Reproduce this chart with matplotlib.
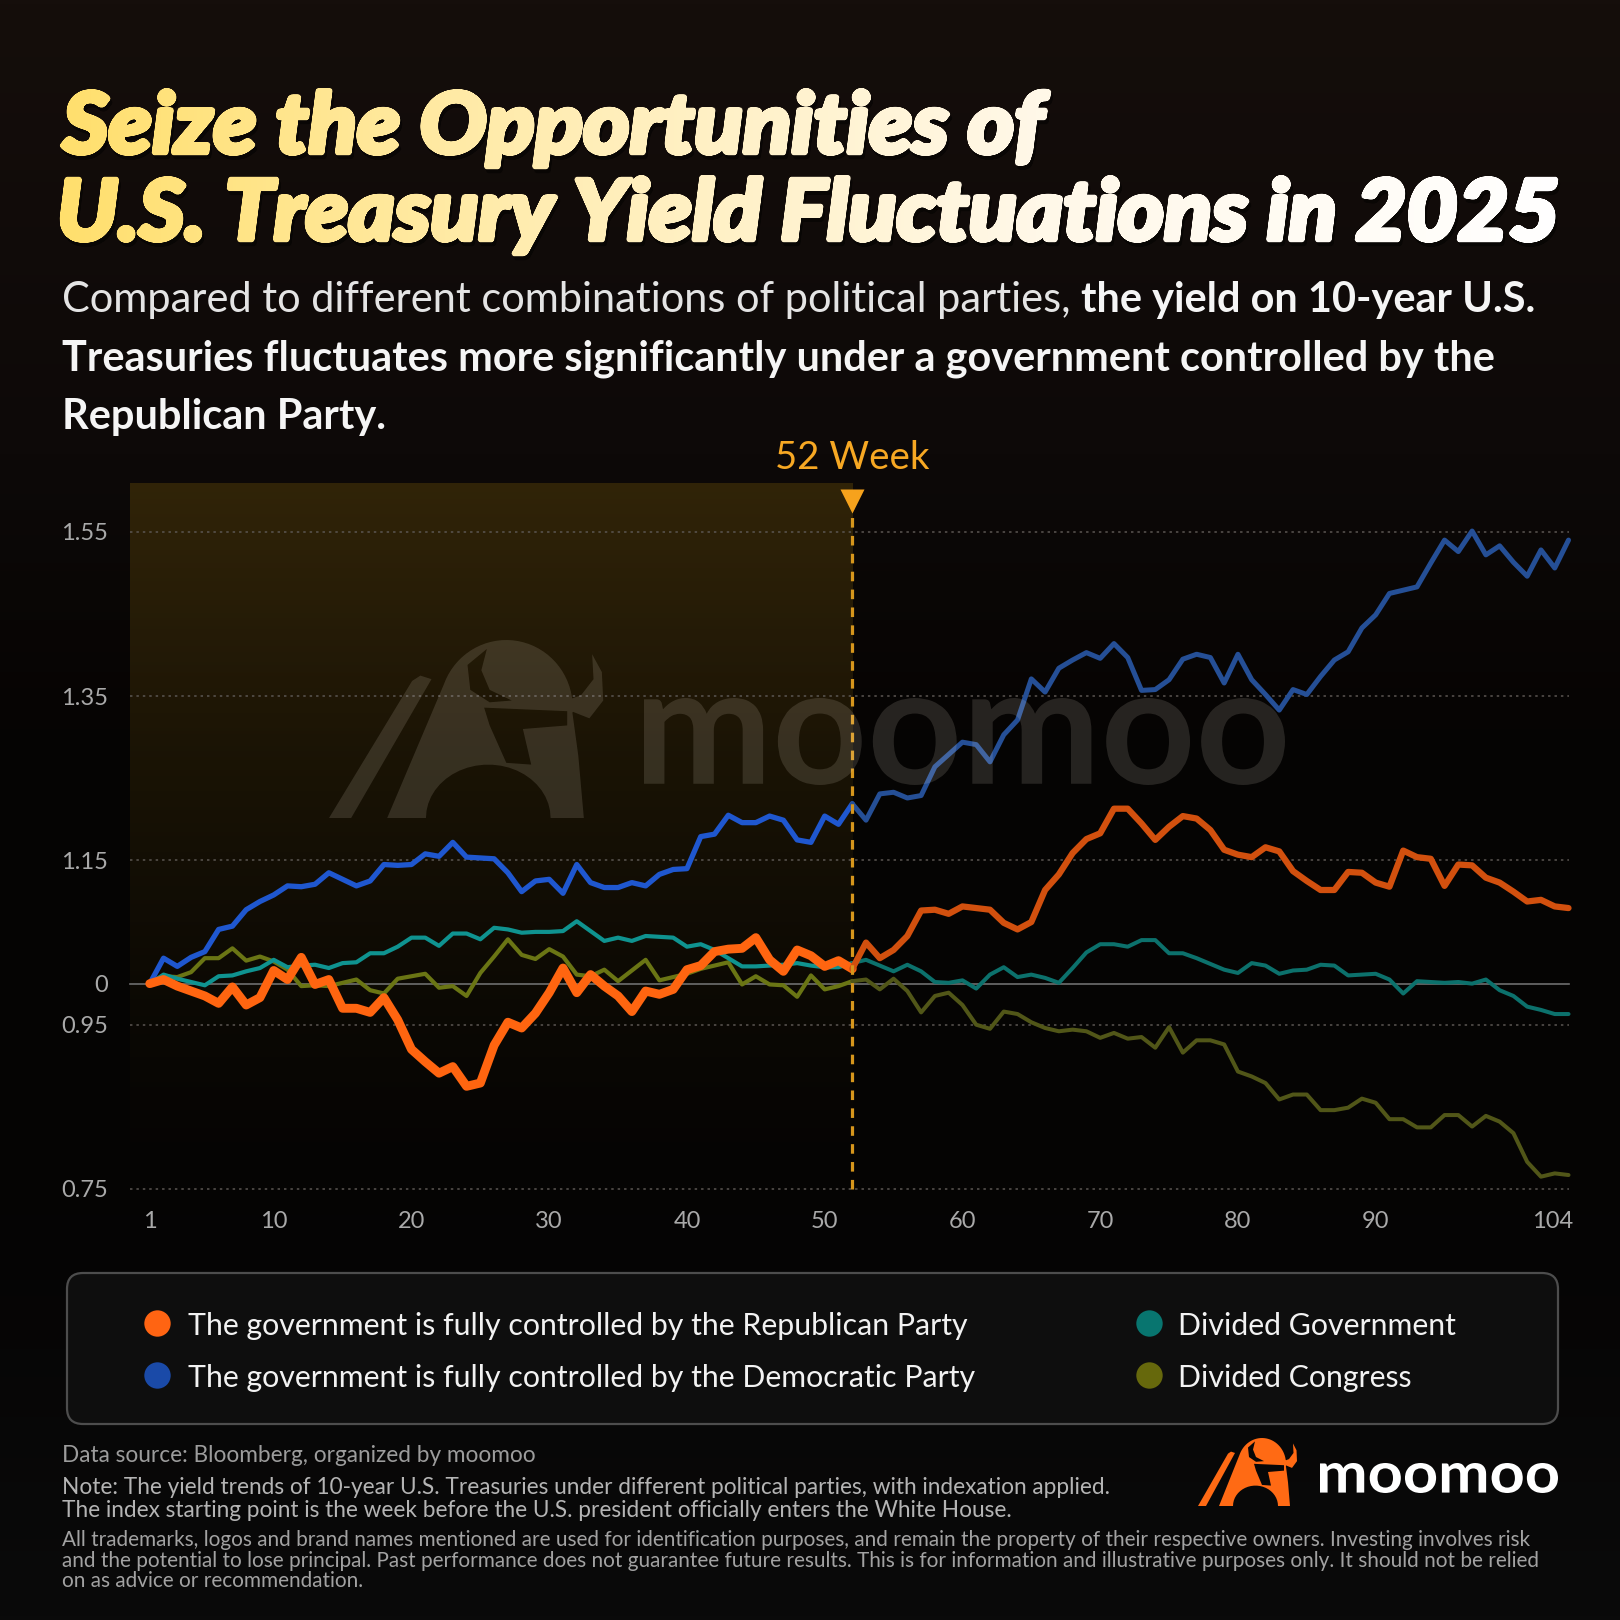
import numpy as np
import matplotlib
matplotlib.use("Agg")
import matplotlib.pyplot as plt
from matplotlib.path import Path
from matplotlib.patches import PathPatch, FancyBboxPatch
from matplotlib.textpath import TextPath
from matplotlib.font_manager import FontProperties
from matplotlib.transforms import Affine2D, ScaledTranslation
from matplotlib.colors import to_rgb

plt.rcParams["font.family"] = ["Lato", "DejaVu Sans"]

W = H = 1620
DPI = 100

# ---------------- data (indexed 10-year yield, week 1 = 1.0) ----------------
weeks = np.arange(1, 105)

republican = [
    1.000, 1.005, 0.997, 0.991, 0.985, 0.976, 0.996, 0.974, 0.983, 1.016,
    1.005, 1.032, 0.999, 1.005, 0.970, 0.970, 0.965, 0.983, 0.956, 0.920,
    0.905, 0.891, 0.899, 0.875, 0.879, 0.925, 0.953, 0.946, 0.964, 0.989,
    1.019, 0.989, 1.011, 0.997, 0.985, 0.966, 0.991, 0.987, 0.993, 1.017,
    1.022, 1.039, 1.042, 1.043, 1.056, 1.029, 1.015, 1.041, 1.034, 1.021,
    1.028, 1.018, 1.050, 1.031, 1.041, 1.058, 1.089, 1.090, 1.085, 1.094,
    1.092, 1.090, 1.074, 1.066, 1.075, 1.114, 1.133, 1.159, 1.176, 1.183,
    1.213, 1.213, 1.195, 1.175, 1.191, 1.204, 1.201, 1.187, 1.163, 1.157,
    1.154, 1.166, 1.161, 1.137, 1.125, 1.114, 1.114, 1.136, 1.135, 1.123,
    1.118, 1.162, 1.154, 1.152, 1.119, 1.145, 1.144, 1.129, 1.123, 1.112,
    1.100, 1.102, 1.094, 1.092,
]

democratic = [
    1.000, 1.031, 1.021, 1.032, 1.039, 1.066, 1.070, 1.090, 1.100, 1.108,
    1.119, 1.118, 1.121, 1.135, 1.127, 1.119, 1.125, 1.145, 1.144, 1.145,
    1.158, 1.155, 1.172, 1.154, 1.153, 1.152, 1.135, 1.112, 1.125, 1.127,
    1.110, 1.145, 1.123, 1.117, 1.117, 1.123, 1.119, 1.133, 1.139, 1.140,
    1.179, 1.182, 1.205, 1.196, 1.196, 1.204, 1.199, 1.175, 1.172, 1.204,
    1.194, 1.219, 1.199, 1.231, 1.233, 1.226, 1.229, 1.264, 1.279, 1.294,
    1.291, 1.270, 1.303, 1.321, 1.371, 1.355, 1.384, 1.394, 1.403, 1.396,
    1.414, 1.397, 1.357, 1.358, 1.370, 1.395, 1.401, 1.397, 1.366, 1.401,
    1.370, 1.352, 1.333, 1.358, 1.352, 1.374, 1.394, 1.404, 1.433, 1.449,
    1.475, 1.479, 1.483, 1.512, 1.540, 1.526, 1.551, 1.522, 1.533, 1.513,
    1.496, 1.528, 1.506, 1.540,
]

divided_gov = [
    1.000, 1.011, 1.006, 1.002, 0.998, 1.009, 1.010, 1.015, 1.019, 1.029,
    1.020, 1.022, 1.023, 1.019, 1.025, 1.026, 1.037, 1.037, 1.045, 1.056,
    1.056, 1.046, 1.061, 1.061, 1.054, 1.068, 1.066, 1.062, 1.063, 1.063,
    1.064, 1.076, 1.064, 1.052, 1.056, 1.052, 1.058, 1.057, 1.056, 1.045,
    1.048, 1.041, 1.031, 1.021, 1.021, 1.022, 1.023, 1.025, 1.022, 1.020,
    1.020, 1.025, 1.029, 1.022, 1.015, 1.023, 1.015, 1.002, 1.001, 1.004,
    0.994, 1.011, 1.020, 1.008, 1.011, 1.007, 1.001, 1.019, 1.038, 1.048,
    1.048, 1.045, 1.053, 1.053, 1.037, 1.037, 1.031, 1.024, 1.017, 1.013,
    1.025, 1.022, 1.012, 1.016, 1.017, 1.023, 1.022, 1.010, 1.011, 1.012,
    1.005, 0.988, 1.003, 1.002, 1.001, 1.002, 1.000, 1.005, 0.992, 0.985,
    0.972, 0.968, 0.963, 0.963,
]

divided_congress = [
    1.000, 1.009, 1.008, 1.014, 1.031, 1.031, 1.043, 1.028, 1.033, 1.027,
    1.017, 0.997, 0.998, 0.997, 1.001, 1.005, 0.992, 0.988, 1.006, 1.009,
    1.012, 0.995, 0.997, 0.985, 1.013, 1.033, 1.054, 1.035, 1.030, 1.042,
    1.033, 1.011, 1.009, 1.017, 1.003, 1.016, 1.029, 1.004, 1.008, 1.012,
    1.018, 1.022, 1.026, 0.999, 1.009, 0.999, 0.998, 0.984, 1.010, 0.993,
    0.997, 1.003, 1.005, 0.993, 1.006, 0.991, 0.965, 0.985, 0.989, 0.974,
    0.950, 0.945, 0.966, 0.963, 0.953, 0.946, 0.942, 0.944, 0.942, 0.934,
    0.940, 0.933, 0.935, 0.922, 0.947, 0.916, 0.931, 0.931, 0.926, 0.893,
    0.887, 0.879, 0.859, 0.865, 0.865, 0.846, 0.846, 0.849, 0.860, 0.855,
    0.835, 0.835, 0.825, 0.825, 0.840, 0.840, 0.826, 0.839, 0.832, 0.818,
    0.783, 0.765, 0.769, 0.767,
]

split_week = 52
x_ticks = [1, 10, 20, 30, 40, 50, 60, 70, 80, 90, 104]
y_ticks = [0.75, 0.95, 1.00, 1.15, 1.35, 1.55]
y_tick_labels = ["0.75", "0.95", "0", "1.15", "1.35", "1.55"]
grid_levels = [0.75, 0.95, 1.15, 1.35, 1.55]

label_rep = "The government is fully controlled by the Republican Party"
label_dem = "The government is fully controlled by the Democratic Party"
label_gov = "Divided Government"
label_con = "Divided Congress"

title_lines = ["Seize the Opportunities of",
               "U.S. Treasury Yield Fluctuations in 2025"]
subtitle_regular = "Compared to different combinations of political parties,"
subtitle_bold = ["the yield on 10-year U.S.",
                 "Treasuries fluctuates more significantly under a government controlled by the",
                 "Republican Party."]
footer_source = "Data source: Bloomberg, organized by moomoo"
footer_note = ["Note: The yield trends of 10-year U.S. Treasuries under different political parties, with indexation applied.",
               "The index starting point is the week before the U.S. president officially enters the White House."]
footer_disclaimer = [
    "All trademarks, logos and brand names mentioned are used for identification purposes, and remain the property of their respective owners. Investing involves risk",
    "and the potential to lose principal. Past performance does not guarantee future results. This is for information and illustrative purposes only. It should not be relied",
    "on as advice or recommendation."]

# ---------------- figure & background ----------------
fig = plt.figure(figsize=(W / DPI, H / DPI), dpi=DPI)
fig.patch.set_facecolor("#0a0706")
renderer = fig.canvas.get_renderer()

bg = fig.add_axes([0, 0, 1, 1], zorder=0)
bg.axis("off")
stops = [(0.0, "#150e0b"), (0.28, "#0d0908"), (0.45, "#060403"), (0.75, "#050404"), (1.0, "#0a0a0a")]
ys = np.linspace(0, 1, 400)
cols = np.array([np.interp(ys, [s for s, _ in stops], [to_rgb(c)[i] for _, c in stops]) for i in range(3)]).T
bg.imshow(cols[:, None, :], extent=[0, 1, 0, 1], aspect="auto", origin="upper")
bg.set_xlim(0, 1); bg.set_ylim(0, 1)

# ---------------- chart ----------------
x_lo, x_hi = -0.5, 104.5
y_lo, y_hi = 0.745, 1.609
ax_l, ax_r, ax_t, ax_b = 129.1, 1575.4, 483.4, 1193.1
ax = fig.add_axes([ax_l / W, 1 - ax_b / H, (ax_r - ax_l) / W, (ax_b - ax_t) / H], zorder=1)
ax.set_facecolor("none")
for s in ax.spines.values():
    s.set_visible(False)

# golden gradient over the first year
grad = np.zeros((300, 2, 4))
tt = np.linspace(0, 1, 300)[:, None]
grad[..., 0], grad[..., 1], grad[..., 2] = 0.23, 0.17, 0.035
grad[..., 3] = 0.8 * (1 - tt) ** 1.4
ax.imshow(grad, extent=[-0.45, split_week, y_lo, y_hi], aspect="auto", origin="upper",
          interpolation="bilinear", zorder=0)

for lvl in grid_levels:
    ax.plot([-0.45, 104], [lvl, lvl], color="#5b5652", lw=1.1, ls=(0, (1.6, 2.6)), zorder=1)
ax.plot([-0.45, 104], [1.0, 1.0], color="#6e6e6e", lw=1.2, zorder=1)

styles = [
    (divided_congress, "#6a7514", "#515618", 3.0, 2.9, 2),
    (divided_gov, "#0f9390", "#0c716c", 3.0, 2.9, 3),
    (democratic, "#1f57cf", "#254f96", 3.8, 3.6, 4),
    (republican, "#ff6510", "#d2500e", 6.4, 4.5, 5),
]
k = split_week
for vals, c_pre, c_post, lw_pre, lw_post, z in styles:
    ax.plot(weeks[:k], vals[:k], color=c_pre, lw=lw_pre, zorder=z,
            solid_joinstyle="round", solid_capstyle="round")
    ax.plot(weeks[k - 1:], vals[k - 1:], color=c_post, lw=lw_post, zorder=z,
            solid_joinstyle="round", solid_capstyle="round")

ax.plot([split_week, split_week], [0.75, 1.58], color="#d6961c", lw=2.3,
        ls=(0, (3.0, 2.6)), zorder=6)
ax.plot([split_week], [1.587], marker="v", ms=17, color="#f6a21c", mec="none",
        zorder=7, clip_on=False)

ax.set_xlim(x_lo, x_hi)
ax.set_ylim(y_lo, y_hi)
ax.set_xticks(x_ticks, labels=[str(v) for v in x_ticks])
ax.set_yticks(y_ticks, labels=y_tick_labels)
ax.tick_params(axis="both", length=0, colors="#a9a9a9", labelsize=17)
ax.tick_params(axis="y", pad=15)
ax.tick_params(axis="x", pad=13)
last = ax.get_xticklabels()[-1]
last.set_transform(last.get_transform() + ScaledTranslation(-0.16, 0, fig.dpi_scale_trans))

# ---------------- overlay in pixel coordinates (y down) ----------------
ov = fig.add_axes([0, 0, 1, 1], zorder=3)
ov.set_xlim(0, W)
ov.set_ylim(H, 0)
ov.axis("off")


def text_width(txt, size, **kw):
    t = ov.text(0, 0, txt, fontsize=size, **kw)
    w = t.get_window_extent(renderer).width
    t.remove()
    return w


def fit_size(txt, target_w, **kw):
    return 10 * target_w / text_width(txt, 10, **kw)


def poly_path(pts, ccw=True):
    pts = np.asarray(pts, float)
    area = 0.5 * np.sum(pts[:, 0] * np.roll(pts[:, 1], -1) - np.roll(pts[:, 0], -1) * pts[:, 1])
    if (area > 0) != ccw:
        pts = pts[::-1]
    return Path(np.vstack([pts, pts[:1]]), closed=True)


def icon_path(x0, y0, x1, y1):
    """rough moomoo bull mark, unit shape mapped into pixel box"""
    t = np.linspace(np.pi, 0, 24)
    arch = np.column_stack([0.575 + 0.225 * np.cos(t), 0.30 * np.sin(t)])
    a = np.radians(np.linspace(-5, 160, 36))
    dome = np.column_stack([0.64 + 0.24 * np.cos(a), 0.62 + 0.38 * np.sin(a)])
    body = np.vstack([[(0.21, 0.0), (0.35, 0.0)], arch, [(0.80, 0.0), (0.92, 0.0), (0.90, 0.35)], dome])
    stroke = [(0.0, 0.0), (0.08, 0.0), (0.37, 0.78), (0.33, 0.80), (0.30, 0.77)]
    horn = [(0.875, 0.60), (0.94, 0.56), (0.99, 0.66), (0.985, 0.82), (0.95, 0.92),
            (0.955, 0.78), (0.91, 0.69), (0.875, 0.67)]
    hole1 = [(0.50, 0.86), (0.57, 0.95), (0.55, 0.83), (0.58, 0.72), (0.66, 0.66), (0.58, 0.65), (0.51, 0.72)]
    hole2 = [(0.56, 0.62), (0.86, 0.60), (0.86, 0.52), (0.70, 0.50), (0.73, 0.30), (0.64, 0.31), (0.58, 0.52)]
    parts = [poly_path(body), poly_path(stroke), poly_path(horn),
             poly_path(hole1, ccw=False), poly_path(hole2, ccw=False)]
    p = Path.make_compound_path(*parts)
    tr = Affine2D().scale(x1 - x0, -(y1 - y0)).translate(x0, y1)
    return tr.transform_path(p)


def text_box_path(txt, prop, x0, y0, x1, y1):
    tp = TextPath((0, 0), txt, size=100, prop=prop)
    e = tp.get_extents()
    tr = Affine2D().translate(-e.x0, -e.y1).scale((x1 - x0) / e.width, -(y1 - y0) / e.height).translate(x0, y0)
    return tr.transform_path(tp)


# title with yellow -> white gradient (glyphs thickened by unioned offsets)
fp_title = FontProperties(family="Lato", weight="black", style="italic")
cap100 = TextPath((0, 0), "H", size=100, prop=fp_title).get_extents().height
title_boxes = [(62, 1049, 153), (62, 1556, 240)]
tpaths = []
for line, (lft, rgt, base) in zip(title_lines, title_boxes):
    tp = TextPath((0, 0), line, size=100, prop=fp_title)
    e = tp.get_extents()
    tr = Affine2D().translate(-e.x0, 0).scale((rgt - lft) / e.width, -61 / cap100).translate(lft, base)
    tpaths.append(tr.transform_path(tp))
base_path = Path.make_compound_path(*tpaths)
offsets = [(0, 0)] + [(2.2 * np.cos(a), 2.2 * np.sin(a)) for a in np.linspace(0, 2 * np.pi, 12, endpoint=False)]
title_path = Path.make_compound_path(*[Affine2D().translate(dx, dy).transform_path(base_path)
                                       for dx, dy in offsets])
shadow = PathPatch(Affine2D().translate(2, 4).transform_path(title_path), facecolor="#000000",
                   edgecolor="none", alpha=0.45)
ov.add_patch(shadow)
clip = PathPatch(title_path, facecolor="none", edgecolor="none")
ov.add_patch(clip)
gx = np.linspace(0, 1, 500)
gstops = [(0.0, "#ffdf6c"), (0.35, "#ffeeb8"), (0.65, "#fff8e8"), (1.0, "#ffffff")]
gcols = np.array([np.interp(gx, [s for s, _ in gstops], [to_rgb(c)[i] for _, c in gstops]) for i in range(3)]).T
im = ov.imshow(gcols[None, :, :], extent=[55, 1565, 270, 70], aspect="auto", zorder=2)
im.set_clip_path(clip)
ov.set_xlim(0, W)
ov.set_ylim(H, 0)

# subtitle
sub_size = fit_size(subtitle_bold[1], 1439, fontweight="bold")
space_w = text_width("a a", sub_size) - text_width("aa", sub_size)
ov.text(62, 312, subtitle_regular, fontsize=sub_size, color="#e4e4e4", va="baseline")
x_b = 62 + text_width(subtitle_regular, sub_size) + space_w
ov.text(x_b, 312, subtitle_bold[0], fontsize=sub_size, fontweight="bold", color="#f5f5f5", va="baseline")
ov.text(62, 370, subtitle_bold[1], fontsize=sub_size, fontweight="bold", color="#f5f5f5", va="baseline")
ov.text(62, 429, subtitle_bold[2], fontsize=sub_size, fontweight="bold", color="#f5f5f5", va="baseline")

# 52 week marker label
wk_size = fit_size("52 Week", 155)
ov.text(852, 469, "52 Week", fontsize=wk_size, color="#f7a823", ha="center", va="baseline")

# watermark
wm_color = "#fff4e4"
ov.add_patch(PathPatch(icon_path(329, 640, 606, 818), facecolor=wm_color, edgecolor="none",
                       alpha=0.13, zorder=4))
fp_wm = FontProperties(family="Lato", weight="bold")
ov.add_patch(PathPatch(text_box_path("moomoo", fp_wm, 644, 698, 1285, 785), facecolor=wm_color,
                       edgecolor="none", alpha=0.13, zorder=4))

# legend
ov.add_patch(FancyBboxPatch((67, 1273), 1491, 151, boxstyle="round,pad=0,rounding_size=16",
                            facecolor="#0e0e0e", edgecolor="#4d4d4d", lw=1.6, zorder=1))
leg_size = fit_size(label_rep, 781)
legend_items = [
    (157, 1323, 188, 1335, "#ff6412", label_rep),
    (157, 1375, 188, 1387, "#1a4aa8", label_dem),
    (1149, 1323, 1178, 1335, "#08756f", label_gov),
    (1149, 1375, 1178, 1387, "#66680c", label_con),
]
for mx, my, tx, ty, c, lab in legend_items:
    ov.plot([mx], [my], marker="o", ms=19, color=c, mec="none", zorder=2)
    ov.text(tx, ty, lab, fontsize=leg_size, color="#f2f2f2", va="baseline", zorder=2)

# footer
src_size = fit_size(footer_source, 473)
ov.text(62, 1462, footer_source, fontsize=src_size, color="#9c9c9c", va="baseline")
note_size = fit_size(footer_note[0], 1047)
for line, base in zip(footer_note, [1494, 1517]):
    ov.text(62, base, line, fontsize=note_size, color="#b4b4b4", va="baseline")
dis_size = fit_size(footer_disclaimer[0], 1471)
for line, base in zip(footer_disclaimer, [1546, 1567, 1587]):
    ov.text(62, base, line, fontsize=dis_size, color="#a2a2a2", va="baseline")

# brand logo
ov.add_patch(PathPatch(icon_path(1198, 1438, 1298, 1506), facecolor="#ff6a14", edgecolor="none"))
ov.add_patch(PathPatch(text_box_path("moomoo", fp_wm, 1320, 1463, 1558, 1493),
                       facecolor="#ffffff", edgecolor="none"))

fig.savefig("out.png", dpi=DPI, facecolor=fig.get_facecolor())
